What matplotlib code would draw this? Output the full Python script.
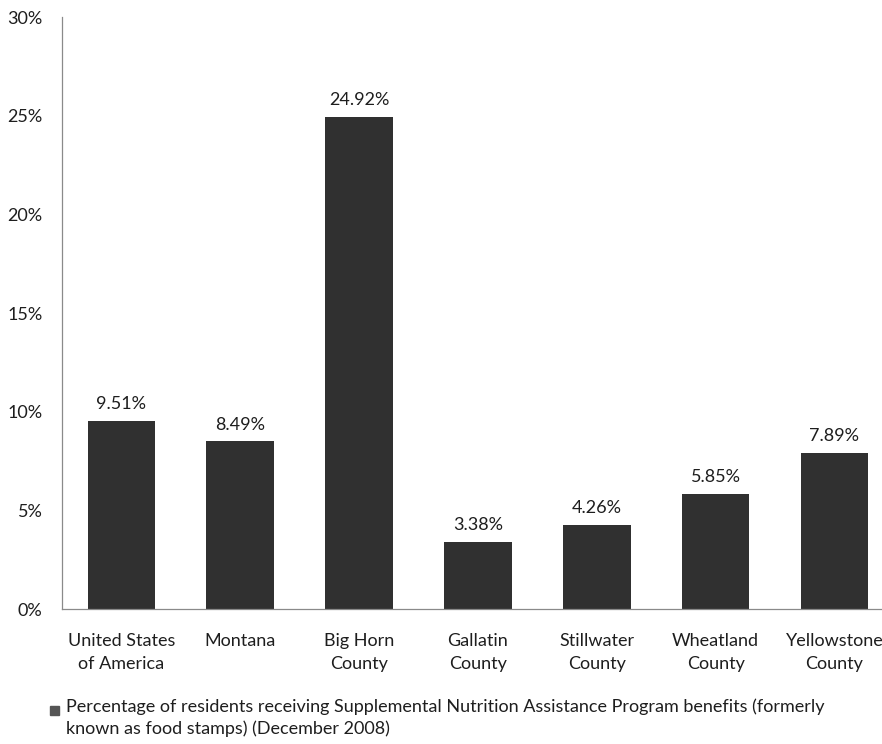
import matplotlib
matplotlib.use('Agg')
import matplotlib.pyplot as plt
from matplotlib.patches import Rectangle

categories = ['United States\nof America', 'Montana', 'Big Horn\nCounty', 'Gallatin\nCounty',
              'Stillwater\nCounty', 'Wheatland\nCounty', 'Yellowstone\nCounty']
values = [9.51, 8.49, 24.92, 3.38, 4.26, 5.85, 7.89]
yticks = [0, 5, 10, 15, 20, 25, 30]
legend_text = ('Percentage of residents receiving Supplemental Nutrition Assistance Program benefits (formerly\n'
               'known as food stamps) (December 2008)')

plt.rcParams['font.family'] = ['Lato', 'DejaVu Sans']
bar_color = '#303030'
txt = '#1e1e1e'

fig = plt.figure(figsize=(8.82, 7.44), dpi=100)
ax = fig.add_axes([62 / 882, 1 - 609 / 744, 820 / 882, 592 / 744])

x = range(len(categories))
ax.bar(x, values, width=0.57, color=bar_color)
for xi, v in zip(x, values):
    ax.text(xi, v + 0.45, '%.2f%%' % v, ha='center', va='bottom', fontsize=13, color=txt)

ax.set_xlim(-0.5, 6.4)
ax.set_ylim(0, 30)
ax.set_yticks(yticks)
ax.set_yticklabels(['%d%%' % t for t in yticks], fontsize=13, color=txt)
ax.set_xticks(list(x))
ax.set_xticklabels(categories, fontsize=13, color=txt, linespacing=1.55)
ax.tick_params(axis='both', length=0)
ax.tick_params(axis='y', pad=14)
ax.tick_params(axis='x', pad=17)
for s in ['top', 'right']:
    ax.spines[s].set_visible(False)
for s in ['left', 'bottom']:
    ax.spines[s].set_color('#8a8a8a')
    ax.spines[s].set_linewidth(0.9)

fig.patches.append(Rectangle((50 / 882, 1 - 715 / 744), 9 / 882, 9 / 744,
                             transform=fig.transFigure, color='#555555'))
fig.text(66 / 882, 1 - 698 / 744, legend_text, fontsize=13, color=txt,
         va='top', ha='left', linespacing=1.45)

fig.savefig('out.png', dpi=100)
